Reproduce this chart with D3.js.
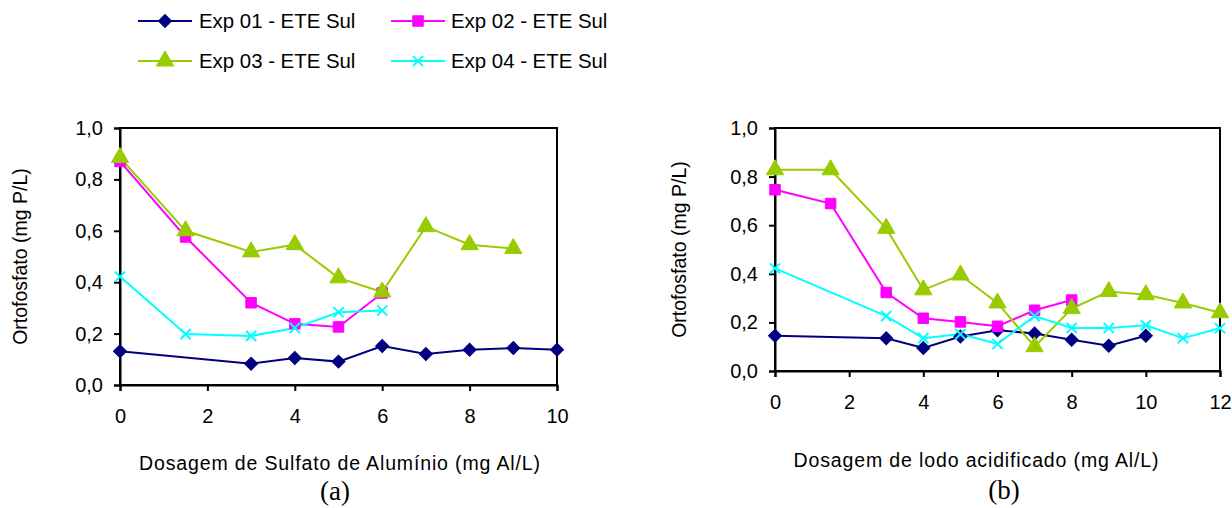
<!DOCTYPE html>
<html><head><meta charset="utf-8">
<script src="https://cdn.jsdelivr.net/npm/d3@7"></script>
<style>
html,body{margin:0;padding:0;background:#fff;}
svg{display:block;font-family:"Liberation Sans",Arial,sans-serif;}
</style></head>
<body>
<svg id="chart" width="1232" height="508"></svg>
<script>
// ---------- DATA ----------
const seriesNames = ["Exp 01 - ETE Sul", "Exp 02 - ETE Sul", "Exp 03 - ETE Sul", "Exp 04 - ETE Sul"];
const seriesColors = ["#000080", "#FF00FF", "#99CC00", "#00FFFF"];

const yTicks = [0, 0.2, 0.4, 0.6, 0.8, 1.0];
const xTicksA = [0, 2, 4, 6, 8, 10];
const xTicksB = [0, 2, 4, 6, 8, 10, 12];

// Chart (a): Sulfato de Alumínio
const a_exp01_x = [0, 3, 4, 5, 6, 7, 8, 9, 10];
const a_exp01_y = [0.131, 0.083, 0.105, 0.091, 0.152, 0.121, 0.137, 0.144, 0.137];
const a_exp02_x = [0, 1.5, 3, 4, 5, 6];
const a_exp02_y = [0.870, 0.576, 0.320, 0.238, 0.226, 0.358];
const a_exp03_x = [0, 1.5, 3, 4, 5, 6, 7, 8, 9];
const a_exp03_y = [0.885, 0.600, 0.518, 0.546, 0.417, 0.362, 0.616, 0.546, 0.531];
const a_exp04_x = [0, 1.5, 3, 4, 5, 6];
const a_exp04_y = [0.422, 0.198, 0.191, 0.222, 0.283, 0.290];

// Chart (b): lodo acidificado
const b_exp01_x = [0, 3, 4, 5, 6, 7, 8, 9, 10];
const b_exp01_y = [0.145, 0.135, 0.095, 0.142, 0.168, 0.154, 0.129, 0.104, 0.145];
const b_exp02_x = [0, 1.5, 3, 4, 5, 6, 7, 8];
const b_exp02_y = [0.746, 0.689, 0.323, 0.217, 0.202, 0.184, 0.250, 0.292];
const b_exp03_x = [0, 1.5, 3, 4, 5, 6, 7, 8, 9, 10, 11, 12];
const b_exp03_y = [0.828, 0.828, 0.587, 0.334, 0.395, 0.280, 0.100, 0.257, 0.327, 0.314, 0.280, 0.240];
const b_exp04_x = [0, 3, 4, 5, 6, 7, 8, 9, 10, 11, 12];
const b_exp04_y = [0.422, 0.226, 0.135, 0.152, 0.111, 0.226, 0.177, 0.177, 0.188, 0.135, 0.176];

const titleA = "Dosagem de Sulfato de Alumínio (mg Al/L)";
const titleB = "Dosagem de lodo acidificado (mg Al/L)";
const yTitle = "Ortofosfato (mg P/L)";

// ---------- DRAW ----------
const svg = d3.select("#chart");
const fmt = d => d3.format(".1f")(d).replace(".", ",");

const symbolTypes = [
  d3.symbolSquare, // rotated -> diamond
  d3.symbolSquare,
  d3.symbolTriangle,
  d3.symbolX || d3.symbolTimes
];
const symbolSizes = [85, 110, 130, 70];
const symbolRot = [45, 0, 0, 0];

function drawMarker(g, i, x, y) {
  const path = d3.symbol().type(symbolTypes[i]).size(symbolSizes[i])();
  const m = g.append("path")
    .attr("d", path)
    .attr("transform", `translate(${x},${y}) rotate(${symbolRot[i]})`);
  if (i === 3) {
    m.attr("fill", "none").attr("stroke", seriesColors[i]).attr("stroke-width", 2);
  } else {
    m.attr("fill", seriesColors[i]).attr("stroke", seriesColors[i]).attr("stroke-width", 1);
  }
}

function drawPanel(cfg) {
  const x = d3.scaleLinear().domain([0, cfg.xMax]).range([cfg.left, cfg.right]);
  const y = d3.scaleLinear().domain([0, 1]).range([cfg.bottom, cfg.top]);
  const g = svg.append("g");

  // frame
  g.append("rect")
    .attr("x", cfg.left).attr("y", cfg.top)
    .attr("width", cfg.right - cfg.left).attr("height", cfg.bottom - cfg.top)
    .attr("fill", "none").attr("stroke", "#000").attr("stroke-width", 2);

  const ya = g.append("g").attr("transform", `translate(${cfg.left},0)`)
    .call(d3.axisLeft(y).tickValues(yTicks).tickFormat(fmt).tickSize(6).tickPadding(11));
  const xa = g.append("g").attr("transform", `translate(0,${cfg.bottom})`)
    .call(d3.axisBottom(x).tickValues(cfg.xTicks).tickFormat(d3.format("d")).tickSize(6).tickPadding(18));
  [ya, xa].forEach(a => {
    a.select(".domain").attr("stroke", "#000").attr("stroke-width", 2);
    a.selectAll(".tick line").attr("stroke", "#000").attr("stroke-width", 2);
    a.selectAll(".tick text").attr("fill", "#000")
      .style("font-family", '"Liberation Sans",Arial,sans-serif').style("font-size", "20px");
  });

  const line = d3.line().x(d => x(d[0])).y(d => y(d[1]));
  cfg.series.forEach((s, i) => {
    const pts = s.x.map((v, k) => [v, s.y[k]]);
    g.append("path").datum(pts).attr("d", line)
      .attr("fill", "none").attr("stroke", seriesColors[i]).attr("stroke-width", 2);
  });
  cfg.series.forEach((s, i) => {
    s.x.forEach((v, k) => drawMarker(g, i, x(v), y(s.y[k])));
  });

  // titles
  g.append("text")
    .attr("transform", `translate(${cfg.yTitleX},${(cfg.top + cfg.bottom) / 2}) rotate(-90)`)
    .attr("text-anchor", "middle").style("font-size", "19.5px").text(yTitle);
  g.append("text")
    .attr("x", cfg.xTitleX - cfg.xTitleLen / 2).attr("y", cfg.xTitleY)
    .attr("textLength", cfg.xTitleLen).attr("lengthAdjust", "spacing")
    .style("font-size", "19.5px").text(cfg.xTitle);
  g.append("text")
    .attr("x", cfg.capX).attr("y", cfg.capY).attr("text-anchor", "middle")
    .style("font-family", '"Liberation Serif","Times New Roman",serif').style("font-size", "27px")
    .text(cfg.cap);
}

drawPanel({
  left: 120, right: 557, top: 128, bottom: 385, xMax: 10, xTicks: xTicksA,
  series: [
    {x: a_exp01_x, y: a_exp01_y}, {x: a_exp02_x, y: a_exp02_y},
    {x: a_exp03_x, y: a_exp03_y}, {x: a_exp04_x, y: a_exp04_y}
  ],
  yTitleX: 27, xTitle: titleA, xTitleX: 339.5, xTitleY: 470, xTitleLen: 401,
  cap: "(a)", capX: 335, capY: 500
});

drawPanel({
  left: 775, right: 1220, top: 128, bottom: 371, xMax: 12, xTicks: xTicksB,
  series: [
    {x: b_exp01_x, y: b_exp01_y}, {x: b_exp02_x, y: b_exp02_y},
    {x: b_exp03_x, y: b_exp03_y}, {x: b_exp04_x, y: b_exp04_y}
  ],
  yTitleX: 686, xTitle: titleB, xTitleX: 976, xTitleY: 467, xTitleLen: 365,
  cap: "(b)", capX: 1004, capY: 499
});

// legend
const legendPos = [
  {lx: 138, tx: 199, y: 21}, {lx: 391, tx: 451, y: 21},
  {lx: 138, tx: 199, y: 61}, {lx: 391, tx: 451, y: 61}
];
const lg = svg.append("g");
seriesNames.forEach((name, i) => {
  const p = legendPos[i];
  lg.append("line").attr("x1", p.lx).attr("x2", p.lx + 54).attr("y1", p.y).attr("y2", p.y)
    .attr("stroke", seriesColors[i]).attr("stroke-width", 2);
  drawMarker(lg, i, p.lx + 27, p.y);
  lg.append("text").attr("x", p.tx).attr("y", p.y).attr("dy", "0.35em")
    .style("font-size", "20.4px").attr("fill", "#000").text(name);
});
</script>
</body></html>
